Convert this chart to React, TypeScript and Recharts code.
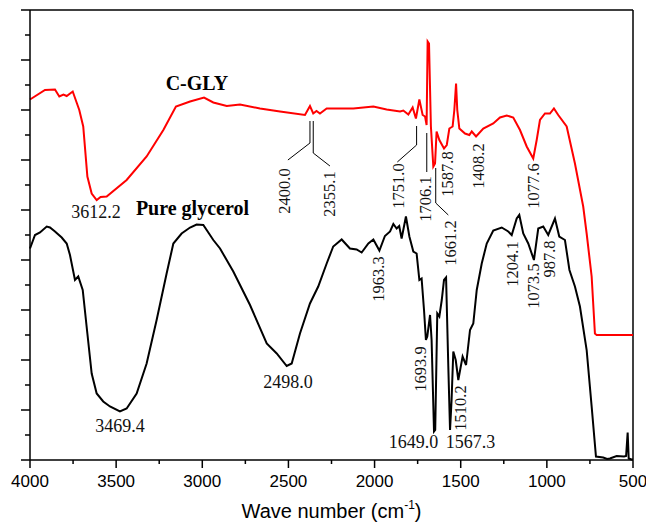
import React from 'react';
import { LineChart, Line, XAxis, YAxis, ReferenceLine, ReferenceDot } from 'recharts';

// C-GLY spectrum (red)
const cglyWave = [
  4000, 3913, 3855, 3830, 3806, 3787, 3752, 3714, 3691, 3667, 3642, 3613, 3590, 3555, 3439, 3323,
  3226, 3153, 3071, 2990, 2936, 2858, 2781, 2665, 2549, 2404, 2375, 2356, 2337, 2317, 2278, 2123,
  2007, 1930, 1852, 1833, 1804, 1779, 1760, 1740, 1721, 1707, 1698, 1692, 1684, 1673, 1659, 1649,
  1640, 1624, 1597, 1581, 1566, 1547, 1537, 1527, 1520, 1508, 1475, 1450, 1436, 1411, 1369, 1311,
  1272, 1233, 1195, 1156, 1117, 1079, 1059, 1040, 1011, 982, 959, 934, 885, 837, 789, 769,
  740, 721, 711, 600, 500,
];
const cglyT = [
  72.1, 74, 74.1, 72.7, 73.1, 72.8, 73.7, 70, 66.7, 56.7, 53.3, 52, 52.6, 52.7, 56, 60.7,
  66, 70.7, 71.7, 72.5, 71.5, 70.8, 71.1, 70.3, 69.7, 69, 70.8, 69.3, 69.8, 69.3, 70.3, 70.3,
  70.7, 70.1, 69.7, 69.9, 69.1, 70.5, 68.3, 72.1, 69, 68.7, 67, 83.7, 83.3, 66.7, 58.7, 59.3,
  65.7, 64, 62.3, 63, 66.3, 66.7, 70, 75.3, 70, 66.3, 65.3, 65, 65.7, 64.7, 66.3, 67.3,
  68.5, 68.9, 68.5, 66, 62.7, 60.3, 64, 68, 69.3, 69.3, 70.3, 69, 66.7, 59.3, 50.7, 45.3,
  36.7, 25.3, 25, 25, 25,
];

// Pure glycerol spectrum (black)
const glyWave = [
  4000, 3971, 3942, 3903, 3884, 3855, 3816, 3787, 3768, 3739, 3720, 3694, 3667, 3642, 3613, 3575,
  3536, 3478, 3439, 3381, 3323, 3265, 3207, 3168, 3120, 3071, 3033, 2994, 2936, 2897, 2820, 2723,
  2626, 2568, 2510, 2481, 2433, 2375, 2327, 2278, 2240, 2191, 2143, 2104, 2075, 2036, 2007, 1972,
  1940, 1910, 1891, 1872, 1857, 1843, 1818, 1798, 1775, 1756, 1740, 1727, 1713, 1702, 1694, 1678,
  1669, 1655, 1648, 1636, 1624, 1610, 1597, 1585, 1572, 1562, 1553, 1543, 1529, 1514, 1489, 1469,
  1446, 1427, 1407, 1378, 1349, 1311, 1262, 1224, 1204, 1175, 1160, 1137, 1108, 1075, 1050, 1021,
  992, 953, 928, 895, 869, 837, 808, 769, 740, 715, 673, 650, 634, 595, 552, 540,
  531, 525, 508, 500,
];
const glyT = [
  42.3, 45, 45.5, 46.7, 46.5, 45.7, 44.5, 43.3, 41, 36, 36.7, 34, 25.3, 17.3, 13.3, 11.7,
  10.7, 9.7, 10.3, 13.3, 19.3, 28, 37.3, 43.3, 45.3, 46.5, 47.1, 47, 44, 42.3, 37.7, 31,
  23.3, 21.3, 18.8, 19.3, 25.3, 31.3, 34.7, 39.3, 42.7, 44.1, 42.3, 42.1, 41.5, 43.3, 44.1, 41.9,
  44.8, 45.7, 47.2, 46.3, 46.8, 44.3, 48.7, 44.7, 41.7, 41.3, 36, 36.3, 30, 24, 24.7, 29,
  24, 5.7, 6, 29.3, 28.7, 32, 36, 36.5, 18.7, 6, 12, 21.7, 20, 16, 20.7, 19,
  26, 27.3, 34, 39.3, 43.3, 45.9, 46.5, 45.7, 45, 48.3, 49, 45.3, 43.3, 40, 46.3, 46.7,
  45, 48.3, 44.7, 44, 38, 34.7, 30.7, 22, 10.7, 0.7, 0.5, 0.2, 0.3, 0.8, 0.7, 0.8,
  5.5, 0.3, 0.1, 0.1,
];

const xTicks = [4000, 3750, 3500, 3250, 3000, 2750, 2500, 2250, 2000, 1750, 1500, 1250, 1000, 750, 500];
const yTicks = [0, 5, 10, 15, 20, 25, 30, 35, 40, 45, 50, 55, 60, 65, 70, 75, 80, 85, 90];

// peak labels: [text, wave number, value, rotated]
const peakLabels: [string, number, number, boolean][] = [
  ['3612.2', 3617, 48.4, false],
  ['3469.4', 3478, 5.7, false],
  ['2498.0', 2502, 14.4, false],
  ['1649.0', 1774, 2.4, false],
  ['1567.3', 1443, 2.4, false],
  ['2400.0', 2520, 53.8, true],
  ['2355.1', 2259, 53.2, true],
  ['1751.0', 1864, 54.8, true],
  ['1706.1', 1707, 52.2, true],
  ['1587.8', 1574, 57.2, true],
  ['1408.2', 1394, 58.8, true],
  ['1077.6', 1080, 54.8, true],
  ['1661.2', 1562, 43.4, true],
  ['1963.3', 1980, 36.2, true],
  ['1693.9', 1736, 18.2, true],
  ['1510.2', 1504, 10.4, true],
  ['1204.1', 1202, 39.2, true],
  ['1073.5', 1080, 34.8, true],
  ['987.8', 982, 40.2, true],
];

const seriesNames: [string, number, number][] = [
  ['C-GLY', 3031, 74],
  ['Pure glycerol', 3057, 49],
];

// leader lines from peaks to their labels
const leaders: { x: number; y: number }[][] = [
  [{ x: 2375, y: 67.8 }, { x: 2375, y: 63.4 }, { x: 2503, y: 60 }],
  [{ x: 2356, y: 67.8 }, { x: 2356, y: 61.4 }, { x: 2259, y: 58.8 }],
  [{ x: 1756, y: 66.8 }, { x: 1756, y: 63 }, { x: 1868, y: 59.6 }],
  [{ x: 1697, y: 65.4 }, { x: 1697, y: 57.6 }],
  [{ x: 1645, y: 58.4 }, { x: 1645, y: 51.4 }, { x: 1572, y: 49 }],
];

const cglyData = cglyWave.map((x, i) => ({ x, y: cglyT[i] }));
const glyData = glyWave.map((x, i) => ({ x, y: glyT[i] }));

const serif = "'Liberation Serif', 'Times New Roman', serif";
const sans = "'Liberation Sans', Arial, sans-serif";

const XTick = (props: any) => {
  const { x, y, payload } = props;
  const major = payload.value % 500 === 0;
  return (
    <g>
      <line x1={x} x2={x} y1={y} y2={y + (major ? 8 : 4)} stroke="#000" strokeWidth={1.5} />
      {major && (
        <text x={x} y={y + 27} textAnchor="middle" fontFamily={sans} fontSize={17} fill="#000">
          {payload.value}
        </text>
      )}
    </g>
  );
};

const YTick = (props: any) => {
  const { x, y, payload } = props;
  const major = payload.value % 10 === 0;
  return <line x1={x - (major ? 9 : 5)} x2={x} y1={y} y2={y} stroke="#000" strokeWidth={1.5} />;
};

const AxisTitle = (props: any) => {
  const { viewBox } = props;
  const cx = viewBox.x + viewBox.width / 2;
  return (
    <text x={cx} y={viewBox.y + 58} textAnchor="middle" fontFamily={sans} fontSize={20} fill="#000">
      Wave number (cm
      <tspan fontSize={12} dy={-9}>-1</tspan>
      <tspan dy={9}>)</tspan>
    </text>
  );
};

const App: React.FC = () => {
  return (
    <div style={{ position: 'absolute', left: 0, top: 0, background: '#fff' }}>
      <LineChart width={646} height={525} margin={{ top: 10, right: 13, bottom: 0, left: 0 }}>
        <XAxis
          type="number"
          dataKey="x"
          domain={[500, 4000]}
          reversed
          ticks={xTicks}
          interval={0}
          tickSize={0}
          tickMargin={0}
          tickLine={false}
          tick={<XTick />}
          axisLine={{ stroke: '#000', strokeWidth: 1.5 }}
          height={65}
          label={<AxisTitle />}
        />
        <YAxis
          type="number"
          domain={[0, 90]}
          ticks={yTicks}
          interval={0}
          tickSize={0}
          tickMargin={0}
          tickLine={false}
          tick={<YTick />}
          axisLine={{ stroke: '#000', strokeWidth: 1.5 }}
          width={30}
        />
        <ReferenceLine y={90} stroke="#000" strokeWidth={1.5} />
        <ReferenceLine x={500} stroke="#000" strokeWidth={1.5} />
        <Line data={cglyData} dataKey="y" type="linear" stroke="#ff0000" strokeWidth={2} dot={false} isAnimationActive={false} />
        <Line data={glyData} dataKey="y" type="linear" stroke="#000" strokeWidth={2} dot={false} isAnimationActive={false} />
        {leaders.map((pts, i) =>
          pts.slice(1).map((p, j) => (
            <ReferenceLine key={`l-${i}-${j}`} segment={[pts[j], p]} stroke="#000" strokeWidth={1} />
          ))
        )}
        {peakLabels.map(([text, x, y, rot]) => (
          <ReferenceDot
            key={text}
            x={x}
            y={y}
            r={0}
            shape={(p: any) =>
              rot ? (
                <text
                  x={p.cx}
                  y={p.cy}
                  transform={`rotate(-90 ${p.cx} ${p.cy})`}
                  textAnchor="middle"
                  dominantBaseline="central"
                  fontFamily={serif}
                  fontSize={16.5}
                  fill="#111"
                >
                  {text}
                </text>
              ) : (
                <text x={p.cx} y={p.cy} textAnchor="middle" fontFamily={serif} fontSize={18} fill="#111">
                  {text}
                </text>
              )
            }
          />
        ))}
        {seriesNames.map(([text, x, y]) => (
          <ReferenceDot
            key={text}
            x={x}
            y={y}
            r={0}
            shape={(p: any) => (
              <text x={p.cx} y={p.cy} textAnchor="middle" fontFamily={serif} fontSize={20} fontWeight="bold" fill="#000">
                {text}
              </text>
            )}
          />
        ))}
      </LineChart>
    </div>
  );
};

export default App;
